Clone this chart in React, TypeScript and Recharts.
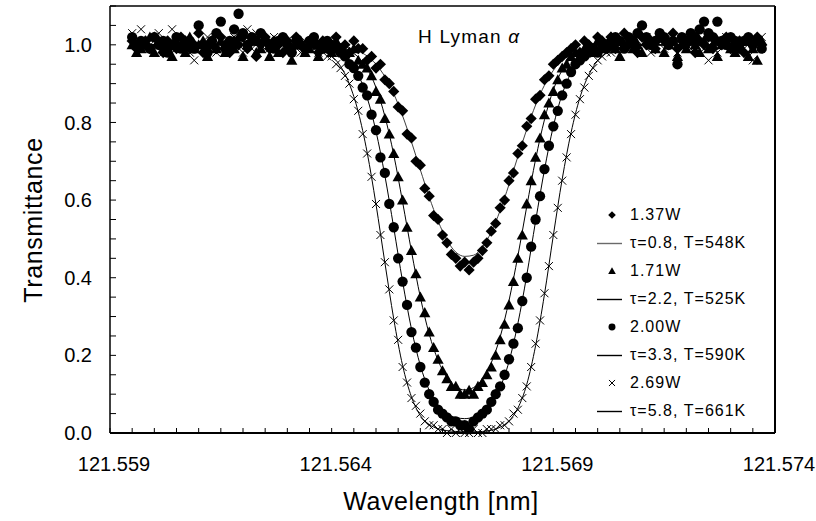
import { ComposedChart, Scatter, Line, XAxis, YAxis, Legend } from "recharts";

const FONT = "'Liberation Sans', Arial, sans-serif";

// Measured wavelengths [nm] (shared by the four data series)
const wavelengths = [
  121.5595, 121.5596, 121.5597, 121.5598, 121.5599, 121.56, 121.5601, 121.5602, 121.5603, 121.5604,
  121.5605, 121.5606, 121.5607, 121.5608, 121.5609, 121.561, 121.5611, 121.5612, 121.5613, 121.5614,
  121.5615, 121.5616, 121.5617, 121.5618, 121.5619, 121.562, 121.5621, 121.5622, 121.5623, 121.5624,
  121.5625, 121.5626, 121.5627, 121.5628, 121.5629, 121.563, 121.5631, 121.5632, 121.5633, 121.5634,
  121.5635, 121.5636, 121.5637, 121.5638, 121.5639, 121.564, 121.5641, 121.5642, 121.5643, 121.5644,
  121.5645, 121.5646, 121.5647, 121.5648, 121.5649, 121.565, 121.5651, 121.5652, 121.5653, 121.5654,
  121.5655, 121.5656, 121.5657, 121.5658, 121.5659, 121.566, 121.5661, 121.5662, 121.5663, 121.5664,
  121.5665, 121.5666, 121.5667, 121.5668, 121.5669, 121.567, 121.5671, 121.5672, 121.5673, 121.5674,
  121.5675, 121.5676, 121.5677, 121.5678, 121.5679, 121.568, 121.5681, 121.5682, 121.5683, 121.5684,
  121.5685, 121.5686, 121.5687, 121.5688, 121.5689, 121.569, 121.5691, 121.5692, 121.5693, 121.5694,
  121.5695, 121.5696, 121.5697, 121.5698, 121.5699, 121.57, 121.5701, 121.5702, 121.5703, 121.5704,
  121.5705, 121.5706, 121.5707, 121.5708, 121.5709, 121.571, 121.5711, 121.5712, 121.5713, 121.5714,
  121.5715, 121.5716, 121.5717, 121.5718, 121.5719, 121.572, 121.5721, 121.5722, 121.5723, 121.5724,
  121.5725, 121.5726, 121.5727, 121.5728, 121.5729, 121.573, 121.5731, 121.5732, 121.5733, 121.5734,
  121.5735, 121.5736, 121.5737,
];

// Transmittance, 1.37W
const trans137 = [
  1.01, 0.99,
  1.0, 1.01, 0.99, 1.02, 1.0, 0.98, 1.01, 1.0, 0.99, 1.02,
  1.01, 0.99, 1.0, 1.03, 0.98, 1.0, 1.01, 0.99, 1.02, 1.0,
  0.98, 1.01, 1.0, 1.02, 0.99, 1.01, 0.97, 1.0, 1.02, 0.99,
  1.01, 1.0, 0.98, 1.01, 0.99, 1.02, 1.0, 0.99, 1.01, 1.0,
  0.98, 1.01, 0.99, 1.0, 1.02, 0.99, 1.0, 0.98, 1.01, 0.99,
  0.99, 0.96, 0.97, 0.94, 0.95, 0.91, 0.9, 0.88, 0.84, 0.83,
  0.77, 0.76, 0.7, 0.69, 0.63, 0.61, 0.56, 0.55, 0.51, 0.49,
  0.46, 0.45, 0.43, 0.44, 0.42, 0.44, 0.45, 0.47, 0.49, 0.52,
  0.54, 0.58, 0.6, 0.65, 0.67, 0.72, 0.74, 0.79, 0.81, 0.86,
  0.87, 0.91, 0.92, 0.95, 0.96, 0.97, 0.98, 0.99, 1.0, 0.98,
  1.01, 1.0, 0.99, 1.02, 1.01, 1.0, 1.02, 0.99, 1.01, 1.03,
  1.0, 1.01, 0.98, 1.02, 1.0, 1.01, 0.99, 1.02, 1.01, 1.0,
  1.03, 0.99, 1.01, 1.0, 1.02, 0.98, 1.01, 1.0, 1.02, 0.99,
  1.01, 1.0, 1.02, 0.99, 1.0, 1.01, 0.98, 1.01, 1.0, 1.02,
  1.0,
];

// Transmittance, 1.71W
const trans171 = [
  1.0, 0.98,
  0.99, 1.0, 1.02, 0.98, 1.01, 0.99, 1.0, 0.97, 1.01, 1.0,
  0.98, 1.02, 0.99, 1.0, 1.01, 0.97, 1.0, 0.99, 1.01, 0.98,
  1.0, 0.99, 1.02, 0.97, 1.0, 1.01, 0.98, 0.99, 1.01, 0.97,
  1.0, 0.98, 1.01, 0.99, 0.96, 1.0, 1.01, 0.98, 0.99, 1.01,
  0.97, 1.0, 0.99, 0.98, 1.01, 0.99, 0.98, 0.98, 0.99, 0.96,
  0.95, 0.94, 0.92, 0.88, 0.86, 0.81, 0.77, 0.72, 0.66, 0.6,
  0.53, 0.47, 0.41, 0.35, 0.31, 0.26, 0.22, 0.19, 0.16, 0.14,
  0.12, 0.12, 0.1, 0.1, 0.11, 0.1, 0.12, 0.13, 0.15, 0.17,
  0.2, 0.24, 0.28, 0.33, 0.39, 0.45, 0.51, 0.59, 0.65, 0.71,
  0.76, 0.82, 0.85, 0.88, 0.91, 0.94, 0.95, 0.97, 0.98, 0.98,
  0.99, 1.0, 0.98, 1.01, 0.99, 1.0, 1.02, 0.99, 0.97, 1.0,
  1.01, 0.99, 1.0, 0.98, 1.01, 1.0, 0.99, 1.02, 0.98, 1.0,
  1.01, 0.97, 1.0, 0.99, 1.01, 1.0, 0.98, 1.01, 0.99, 1.0,
  0.97, 1.0, 1.01, 0.99, 0.98, 1.0, 1.01, 0.97, 0.99, 0.96,
  1.01,
];

// Transmittance, 2.00W
const trans200 = [
  1.02, 1.0,
  1.01, 1.0, 0.99, 1.02, 1.0, 1.01, 0.98, 1.0, 1.02, 0.99,
  1.0, 1.01, 0.99, 1.05, 1.0, 0.98, 1.01, 1.03, 1.06, 0.99,
  1.01, 1.04, 1.08, 1.03, 1.0, 1.02, 1.01, 1.03, 1.01, 1.0,
  0.99, 1.01, 1.02, 1.0, 0.98, 1.01, 1.0, 0.99, 1.01, 1.02,
  1.0, 0.99, 1.01, 1.0, 0.99, 0.98, 0.97, 0.95, 0.94, 0.92,
  0.89, 0.87, 0.82, 0.78, 0.71, 0.67, 0.59, 0.53, 0.45, 0.39,
  0.33, 0.26, 0.22, 0.17, 0.13, 0.1, 0.08, 0.06, 0.05, 0.04,
  0.03, 0.03, 0.02, 0.02, 0.01, 0.03, 0.04, 0.05, 0.06, 0.08,
  0.1, 0.12, 0.15, 0.19, 0.23, 0.27, 0.34, 0.4, 0.48, 0.55,
  0.61, 0.68, 0.74, 0.79, 0.83, 0.87, 0.9, 0.93, 0.95, 0.96,
  0.97, 0.98, 0.99, 0.98, 1.0, 0.99, 1.0, 1.02, 1.01, 0.99,
  1.02, 1.01, 1.03, 1.05, 1.02, 1.0, 1.01, 1.03, 1.02, 1.0,
  1.01, 0.95, 1.02, 1.01, 1.03, 1.02, 1.04, 1.06, 1.03, 1.02,
  1.06, 1.01, 1.0, 1.02, 1.01, 0.99, 1.01, 1.02, 1.0, 1.01,
  0.99,
];

// Transmittance, 2.69W
const trans269 = [
  1.03, 1.01,
  1.04, 1.0, 0.99, 1.01, 1.03, 0.98, 1.0, 1.04, 0.99, 1.01,
  1.0, 0.98, 0.96, 1.04, 0.99, 1.02, 1.0, 0.98, 1.01, 1.0,
  0.99, 1.02, 1.0, 0.98, 1.04, 0.99, 1.03, 1.0, 1.01, 0.99,
  1.02, 0.98, 1.0, 1.01, 0.99, 1.0, 0.98, 1.01, 0.99, 1.0,
  0.98, 0.99, 0.97, 0.97, 0.95, 0.94, 0.92, 0.9, 0.86, 0.83,
  0.77, 0.72, 0.66, 0.59, 0.51, 0.44, 0.37, 0.29, 0.24, 0.17,
  0.13, 0.09, 0.07, 0.05, 0.03, 0.02, 0.02, 0.01, 0.01, 0.0,
  0.01, 0.0, 0.01, 0.0, 0.0, 0.01, 0.0, 0.0, 0.01, 0.01,
  0.01, 0.02, 0.02, 0.03, 0.05, 0.06, 0.09, 0.12, 0.17, 0.23,
  0.29, 0.36, 0.43, 0.51, 0.58, 0.65, 0.71, 0.77, 0.82, 0.86,
  0.89, 0.92, 0.94, 0.96, 0.97, 0.98, 0.98, 0.99, 1.0, 0.99,
  1.0, 1.01, 0.99, 1.0, 1.02, 0.98, 1.0, 1.01, 0.99, 1.02,
  1.0, 0.98, 1.01, 1.0, 0.99, 1.02, 1.01, 0.99, 0.96, 1.01,
  0.98, 1.0, 1.02, 0.99, 1.01, 1.0, 0.99, 0.97, 0.96, 1.0,
  1.02,
];

// Fitted profiles
const fitWavelengths = [
  121.5595,
  121.563, 121.5632, 121.5634, 121.5636, 121.5638, 121.564, 121.5642, 121.5644, 121.5646, 121.5648,
  121.565, 121.5652, 121.5654, 121.5656, 121.5658, 121.566, 121.5662, 121.5664, 121.5666, 121.5668,
  121.567, 121.5672, 121.5674, 121.5676, 121.5678, 121.568, 121.5682, 121.5684, 121.5686, 121.5688,
  121.569, 121.5692, 121.5694, 121.5696, 121.5698, 121.57, 121.5702, 121.5704, 121.5706, 121.5708,
  121.571,
  121.5737,
];
const fit137 = [
  1.0,
  1.0, 1.0, 1.0, 1.0, 0.999, 0.998, 0.996, 0.992, 0.984, 0.971,
  0.95, 0.918, 0.874, 0.817, 0.75, 0.678, 0.608, 0.546, 0.497, 0.466,
  0.455, 0.458, 0.479, 0.518, 0.573, 0.64, 0.712, 0.782, 0.845, 0.896,
  0.934, 0.961, 0.978, 0.988, 0.994, 0.997, 0.999, 1.0, 1.0, 1.0,
  1.0,
  1.0,
];
const fit171 = [
  1.0,
  1.0, 1.0, 1.0, 1.0, 0.999, 0.997, 0.993, 0.985, 0.968, 0.939,
  0.89, 0.816, 0.717, 0.595, 0.468, 0.35, 0.255, 0.187, 0.143, 0.119,
  0.111, 0.117, 0.139, 0.181, 0.247, 0.341, 0.456, 0.583, 0.705, 0.807,
  0.884, 0.935, 0.966, 0.983, 0.992, 0.997, 0.999, 1.0, 1.0, 1.0,
  1.0,
  1.0,
];
const fit200 = [
  1.0,
  1.0, 1.0, 1.0, 0.999, 0.996, 0.99, 0.979, 0.959, 0.923, 0.864,
  0.777, 0.663, 0.529, 0.39, 0.268, 0.174, 0.11, 0.072, 0.05, 0.04,
  0.037, 0.041, 0.052, 0.075, 0.117, 0.184, 0.282, 0.406, 0.546, 0.678,
  0.79, 0.873, 0.928, 0.962, 0.981, 0.991, 0.996, 0.998, 0.999, 1.0,
  1.0,
  1.0,
];
const fit269 = [
  1.0,
  1.0, 0.999, 0.997, 0.993, 0.986, 0.971, 0.945, 0.899, 0.827, 0.723,
  0.589, 0.439, 0.294, 0.174, 0.093, 0.045, 0.022, 0.011, 0.006, 0.004,
  0.003, 0.003, 0.004, 0.007, 0.015, 0.031, 0.064, 0.125, 0.225, 0.357,
  0.509, 0.654, 0.774, 0.864, 0.923, 0.959, 0.979, 0.99, 0.995, 0.998,
  0.999,
  1.0,
];

const powerLabels = ["1.37W", "1.71W", "2.00W", "2.69W"];
const fitLabels = ["τ=0.8, T=548K", "τ=2.2, T=525K", "τ=3.3, T=590K", "τ=5.8, T=661K"];
const markerKinds = ["diamond", "triangle", "circle", "x"];
const fitColors = ["#6a6a6a", "#000000", "#000000", "#000000"];

const xTickLabels = [121.559, 121.564, 121.569, 121.574];
const xMinorTicks = [
  121.559, 121.5595, 121.56, 121.5605, 121.561, 121.5615, 121.562, 121.5625, 121.563, 121.5635,
  121.564, 121.5645, 121.565, 121.5655, 121.566, 121.5665, 121.567, 121.5675, 121.568, 121.5685,
  121.569, 121.5695, 121.57, 121.5705, 121.571, 121.5715, 121.572, 121.5725, 121.573, 121.5735,
  121.574,
];
const yTickLabels = [0, 0.2, 0.4, 0.6, 0.8, 1.0];
const yMinorTicks = [
  0, 0.05, 0.1, 0.15, 0.2, 0.25, 0.3, 0.35, 0.4, 0.45, 0.5, 0.55,
  0.6, 0.65, 0.7, 0.75, 0.8, 0.85, 0.9, 0.95, 1.0, 1.05, 1.1,
];

const xDomain = [121.559, 121.574];
const yDomain = [0, 1.1];

const measured = [trans137, trans171, trans200, trans269].map((series) =>
  wavelengths.map((x, i) => ({ x, y: series[i] }))
);
const fitted = [fit137, fit171, fit200, fit269].map((series) =>
  fitWavelengths.map((x, i) => ({ x, y: series[i] }))
);

function drawMarker(kind: string, cx: number, cy: number, s: number) {
  if (kind === "diamond") {
    return <path d={`M${cx} ${cy - s}L${cx + s} ${cy}L${cx} ${cy + s}L${cx - s} ${cy}Z`} fill="#000" />;
  }
  if (kind === "triangle") {
    return <path d={`M${cx} ${cy - s}L${cx + s} ${cy + s * 0.8}L${cx - s} ${cy + s * 0.8}Z`} fill="#000" />;
  }
  if (kind === "circle") {
    return <circle cx={cx} cy={cy} r={s * 0.92} fill="#000" />;
  }
  const h = s * 0.8;
  return (
    <path
      d={`M${cx - h} ${cy - h}L${cx + h} ${cy + h}M${cx + h} ${cy - h}L${cx - h} ${cy + h}`}
      stroke="#000"
      strokeWidth={1}
      fill="none"
    />
  );
}

// tick lines only, no labels
const NoLabel = () => <g />;

// Legend drawn inside the plot area (marker row + fit row per power)
function SeriesLegend() {
  return (
    <div style={{ fontFamily: FONT, fontSize: 16, letterSpacing: 1, color: "#000" }}>
      {powerLabels.map((power, i) => (
        <div key={power}>
          <div style={{ display: "flex", alignItems: "center", height: 28 }}>
            <svg width={36} height={28}>
              {drawMarker(markerKinds[i], 22, 14, 3.8)}
            </svg>
            <span style={{ marginLeft: 4 }}>{power}</span>
          </div>
          <div style={{ display: "flex", alignItems: "center", height: 28 }}>
            <svg width={36} height={28}>
              <rect x={7} y={13.8} width={25} height={1.4} fill={fitColors[i]} />
            </svg>
            <span style={{ marginLeft: 4 }}>{fitLabels[i]}</span>
          </div>
        </div>
      ))}
    </div>
  );
}

export default function App() {
  return (
    <div style={{ position: "absolute", left: 0, top: 0, width: 816, height: 521, background: "#fff" }}>
      <ComposedChart width={816} height={521} margin={{ top: 5, right: 40, bottom: 0, left: 0 }}>
        <XAxis
          dataKey="x"
          type="number"
          domain={xDomain}
          ticks={xTickLabels}
          interval={0}
          tickFormatter={(v: number) => v.toFixed(3)}
          tickLine={false}
          axisLine={false}
          tickSize={0}
          tickMargin={24}
          height={88}
          tick={{ fontSize: 20, fill: "#000", fontFamily: FONT, dx: 4 }}
        />
        <XAxis
          xAxisId="minor"
          dataKey="x"
          type="number"
          domain={xDomain}
          ticks={xMinorTicks}
          interval={0}
          mirror
          height={1}
          tick={NoLabel}
          tickSize={5}
          tickLine={{ stroke: "#000", strokeWidth: 1 }}
          axisLine={{ stroke: "#000", strokeWidth: 2 }}
          allowDataOverflow
        />
        <XAxis
          xAxisId="top"
          orientation="top"
          dataKey="x"
          type="number"
          domain={xDomain}
          height={1}
          tick={false}
          tickLine={false}
          axisLine={{ stroke: "#000", strokeWidth: 1.5 }}
          allowDataOverflow
        />
        <YAxis
          type="number"
          domain={yDomain}
          ticks={yTickLabels}
          interval={0}
          tickFormatter={(v: number) => v.toFixed(1)}
          tickLine={false}
          axisLine={false}
          tickSize={0}
          tickMargin={18}
          width={110}
          tick={{ fontSize: 20, fill: "#000", fontFamily: FONT }}
        />
        <YAxis
          yAxisId="minor"
          type="number"
          domain={yDomain}
          ticks={yMinorTicks}
          interval={0}
          mirror
          width={1}
          tick={NoLabel}
          tickSize={6}
          tickLine={{ stroke: "#000", strokeWidth: 1 }}
          axisLine={{ stroke: "#000", strokeWidth: 1.5 }}
          allowDataOverflow
        />
        <YAxis
          yAxisId="right"
          orientation="right"
          type="number"
          domain={yDomain}
          width={1}
          tick={false}
          tickLine={false}
          axisLine={{ stroke: "#000", strokeWidth: 2 }}
          allowDataOverflow
        />

        {measured.map((data, i) => [
          <Scatter
            key={`data-${i}`}
            name={powerLabels[i]}
            data={data}
            dataKey="y"
            isAnimationActive={false}
            shape={(p: any) => drawMarker(markerKinds[i], p.cx, p.cy, markerKinds[i] === "x" ? 5 : 5.6)}
          />,
          <Line
            key={`fit-${i}`}
            name={fitLabels[i]}
            data={fitted[i]}
            dataKey="y"
            type="monotone"
            stroke={i === 0 ? "#404040" : "#000"}
            strokeWidth={1}
            dot={false}
            activeDot={false}
            isAnimationActive={false}
          />,
        ])}

        <Legend
          layout="horizontal"
          verticalAlign="middle"
          align="center"
          wrapperStyle={{ left: 590, top: 201, width: 190, height: 224 }}
          content={() => <SeriesLegend />}
        />
      </ComposedChart>

      <svg
        width={816}
        height={521}
        style={{ position: "absolute", left: 0, top: 0, pointerEvents: "none" }}
      >
        <text
          transform="translate(42,220) rotate(-90)"
          textAnchor="middle"
          fontFamily={FONT}
          fontSize={25}
          letterSpacing={0.6}
          fill="#000"
        >
          Transmittance
        </text>
        <text x={441} y={510} textAnchor="middle" fontFamily={FONT} fontSize={25} letterSpacing={0.6} fill="#000">
          Wavelength [nm]
        </text>
        <text x={418} y={43} fontFamily={FONT} fontSize={19} letterSpacing={1.2} fill="#000">
          H Lyman <tspan fontStyle="italic">α</tspan>
        </text>
      </svg>
    </div>
  );
}
